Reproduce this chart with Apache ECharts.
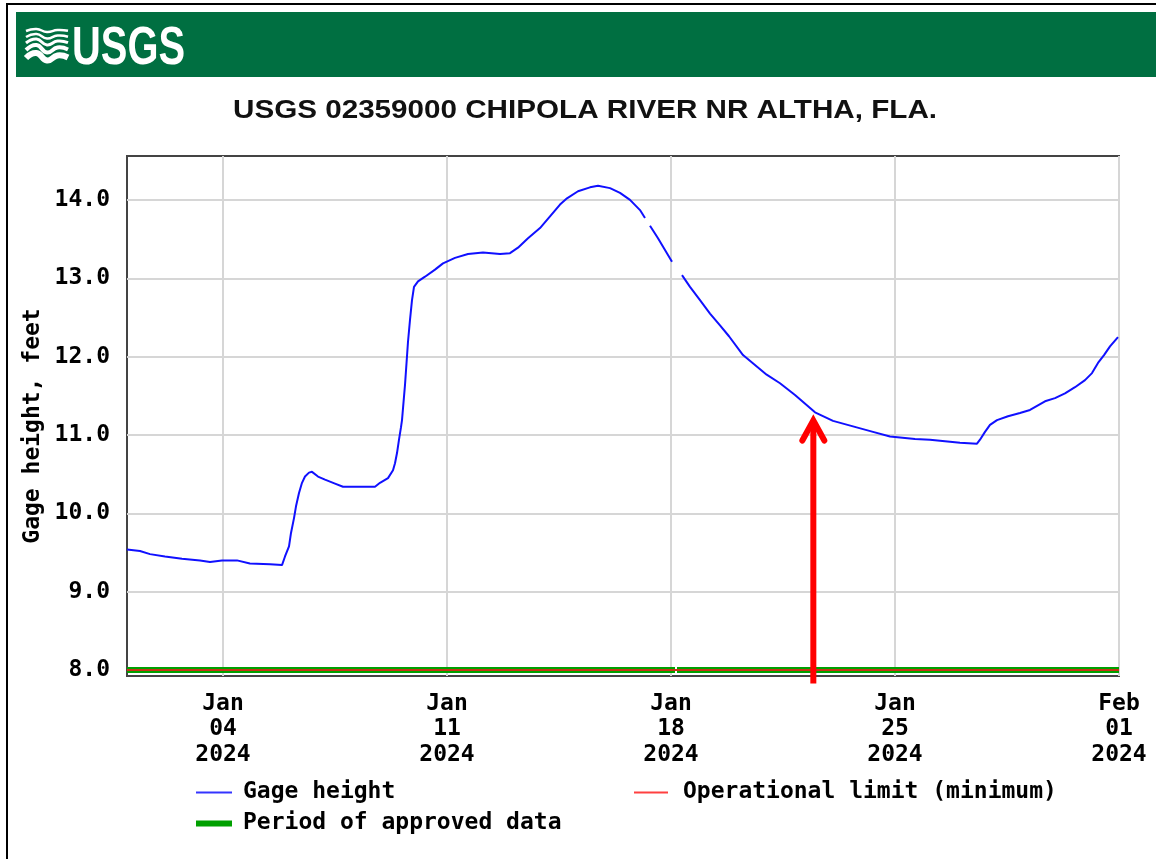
<!DOCTYPE html>
<html>
<head>
<meta charset="utf-8">
<script src="https://cdn.jsdelivr.net/npm/echarts@6/dist/echarts.min.js"></script>
<style>
html,body{margin:0;padding:0;background:#fff;}
#c{width:1156px;height:859px;}
</style>
</head>
<body>
<div id="c"></div>
<script>
// ---------------- DATA ----------------
const chartTitle = 'USGS 02359000 CHIPOLA RIVER NR ALTHA, FLA.';
const yAxisTitle = 'Gage height, feet';
const seriesNames = ['Gage height', 'Operational limit (minimum)', 'Period of approved data'];

const gageTimes = [
'2024-01-01 00:00','2024-01-01 09:45','2024-01-01 17:15','2024-01-02 04:30','2024-01-02 17:15','2024-01-03 06:45','2024-01-03 14:15','2024-01-03 23:15','2024-01-04 10:30','2024-01-04 20:10',
'2024-01-05 11:15','2024-01-05 20:15','2024-01-05 22:30','2024-01-06 01:30','2024-01-06 03:00','2024-01-06 05:15','2024-01-06 06:45','2024-01-06 09:00','2024-01-06 11:15','2024-01-06 13:30',
'2024-01-06 16:30','2024-01-06 18:45','2024-01-06 23:15','2024-01-07 04:30','2024-01-07 12:00','2024-01-07 18:00','2024-01-08 03:00','2024-01-08 18:00','2024-01-08 21:45','2024-01-09 03:45',
'2024-01-09 07:30','2024-01-09 09:00','2024-01-09 10:30','2024-01-09 12:00','2024-01-09 13:30','2024-01-09 14:15','2024-01-09 16:30','2024-01-09 18:45','2024-01-09 20:15','2024-01-09 21:45',
'2024-01-09 23:15','2024-01-10 02:15','2024-01-10 07:30','2024-01-10 15:00','2024-01-10 21:00','2024-01-11 06:00','2024-01-11 15:45','2024-01-12 03:00','2024-01-12 15:45','2024-01-12 23:15',
'2024-01-13 05:15','2024-01-13 12:45','2024-01-13 21:45','2024-01-14 05:15','2024-01-14 12:45','2024-01-14 18:00','2024-01-15 02:15','2024-01-15 11:15','2024-01-15 17:15','2024-01-16 02:15',
'2024-01-16 09:45','2024-01-16 17:15','2024-01-17 00:45','2024-01-17 04:30','2024-01-17 06:15','2024-01-17 08:15','2024-01-17 14:15','2024-01-17 19:30','2024-01-18 00:45','2024-01-18 04:00',
'2024-01-18 08:15','2024-01-18 14:15','2024-01-18 21:45','2024-01-19 05:15','2024-01-19 12:45','2024-01-19 19:30','2024-01-20 06:00','2024-01-20 23:45','2024-01-21 09:45','2024-01-21 21:00',
'2024-01-22 12:00','2024-01-23 01:30','2024-01-23 16:30','2024-01-24 07:30','2024-01-24 20:15','2024-01-25 15:00','2024-01-26 02:15','2024-01-26 13:30','2024-01-27 00:45','2024-01-27 13:30',
'2024-01-27 15:45','2024-01-27 19:30','2024-01-27 23:15','2024-01-28 04:30','2024-01-28 12:45','2024-01-28 21:45','2024-01-29 05:15','2024-01-29 16:30','2024-01-30 00:00','2024-01-30 07:30',
'2024-01-30 15:00','2024-01-30 22:30','2024-01-31 03:45','2024-01-31 08:15','2024-01-31 12:45','2024-01-31 17:15','2024-01-31 23:15'
];
const gageHeight = [
9.54,9.52,9.48,9.45,9.42,9.40,9.38,9.40,9.40,9.36,
9.35,9.34,9.45,9.58,9.75,9.94,10.09,10.26,10.39,10.47,
10.52,10.53,10.47,10.43,10.38,10.34,10.34,10.34,10.39,10.45,
10.55,10.64,10.77,10.94,11.10,11.19,11.64,12.19,12.47,12.72,
12.89,12.96,13.02,13.11,13.19,13.26,13.31,13.33,13.31,13.32,
13.39,13.51,13.64,13.79,13.94,14.02,14.11,14.16,14.18,14.15,
14.09,14.00,13.87,13.77,null,13.67,13.51,13.36,13.21,null,
13.04,12.89,12.72,12.55,12.40,12.26,12.02,11.77,11.66,11.51,
11.29,11.18,11.11,11.04,10.98,10.95,10.94,10.92,10.90,10.89,
10.94,11.04,11.13,11.19,11.24,11.28,11.32,11.43,11.47,11.53,
11.61,11.70,11.79,11.92,12.02,12.13,12.25
];

const operationalLimitTimes = ['2024-01-01 00:00', '2024-02-01 00:00'];
const operationalLimitValue = 8.0;

const approvedStarts = ['2024-01-01 00:00', '2024-01-18 04:30'];
const approvedEnds   = ['2024-01-18 03:00', '2024-02-01 00:00'];
const approvedLevel = 8.0;

const xMin = '2024-01-01 00:00';
const xMax = '2024-02-01 00:00';
const xTickDates  = ['2024-01-04 00:00', '2024-01-11 00:00', '2024-01-18 00:00', '2024-01-25 00:00', '2024-02-01 00:00'];
const xTickLabels = ['Jan\n04\n2024', 'Jan\n11\n2024', 'Jan\n18\n2024', 'Jan\n25\n2024', 'Feb\n01\n2024'];
const yTicks = [8, 9, 10, 11, 12, 13, 14];
const yMin = 7.925;
const yMax = 14.56;

// annotation arrow (points at the gage line)
const arrowTime = '2024-01-22 10:45';
const arrowTipValue = 11.21;
const arrowBaseValue = 7.83;

// ---------------- BUILD ----------------
function ts(s){ const p = s.split(/[- :]/).map(Number); return new Date(p[0], p[1]-1, p[2], p[3]||0, p[4]||0).getTime(); }

const gageData = gageTimes.map((t, i) => [ts(t), gageHeight[i]]);
const limitData = operationalLimitTimes.map(t => [ts(t), operationalLimitValue]);
const approvedData = [];
approvedStarts.forEach((s, i) => {
  if (i > 0) approvedData.push([(ts(approvedEnds[i-1]) + ts(s)) / 2, null]);
  approvedData.push([ts(s), approvedLevel]);
  approvedData.push([ts(approvedEnds[i]), approvedLevel]);
});
const xTickVals = xTickDates.map(ts);
const xLabelMap = {};
xTickVals.forEach((v, i) => { xLabelMap[v] = xTickLabels[i]; });

const MONO = '"DejaVu Sans Mono", "Liberation Mono", monospace';
const FS = 23;
const monoStyle = { fontFamily: MONO, fontWeight: 'bold', fontSize: FS, color: '#000' };

function measure(text, font){
  const c = document.createElement('canvas').getContext('2d');
  c.font = font; return c.measureText(text).width;
}
const titleFont = 'bold 26px "Liberation Sans", Arial, sans-serif';
const titleScale = 704 / measure(chartTitle, titleFont);
const logoFont = 'bold 54px "Liberation Sans", Arial, sans-serif';
const logoScale = 113 / measure('USGS', logoFont);

const chart = echarts.init(document.getElementById('c'), null, { renderer: 'canvas' });

const option = {
  animation: false,
  backgroundColor: '#fff',
  grid: { left: 127, top: 156, right: 37, bottom: 183, show: true, borderColor: '#444', borderWidth: 2, backgroundColor: '#fff', containLabel: false },
  xAxis: {
    type: 'value', min: ts(xMin), max: ts(xMax), scale: true,
    axisLine: { show: false },
    axisTick: { show: false, customValues: xTickVals },
    splitLine: { show: true, lineStyle: { color: '#d6d6d6', width: 2 } },
    axisLabel: {
      customValues: xTickVals, showMinLabel: true, showMaxLabel: true, hideOverlap: false,
      margin: 15, lineHeight: 25.5, align: 'center',
      fontFamily: MONO, fontWeight: 'bold', fontSize: FS, color: '#000',
      formatter: v => xLabelMap[v] || ''
    }
  },
  yAxis: {
    type: 'value', min: yMin, max: yMax,
    axisLine: { show: false },
    axisTick: { show: false, customValues: yTicks },
    splitLine: { show: true, lineStyle: { color: '#d6d6d6', width: 2 } },
    axisLabel: {
      customValues: yTicks, margin: 17, padding: [18, 0, 0, 0],
      fontFamily: MONO, fontWeight: 'bold', fontSize: FS, color: '#000',
      formatter: v => Number(v).toFixed(1)
    }
  },
  legend: [
    { data: [{ name: seriesNames[0], itemStyle: { color: '#3434ff' } }], left: 196, top: 781, icon: 'rect', itemWidth: 36, itemHeight: 2, selectedMode: false, padding: 0,
      textStyle: Object.assign({ padding: [0, 0, 0, 6] }, monoStyle) },
    { data: [{ name: seriesNames[1], itemStyle: { color: '#ff4040' } }], left: 634, top: 781, icon: 'rect', itemWidth: 34, itemHeight: 2, selectedMode: false, padding: 0,
      textStyle: Object.assign({ padding: [0, 0, 0, 10] }, monoStyle) },
    { data: [{ name: seriesNames[2], itemStyle: { color: '#00a000' } }], left: 196, top: 812, icon: 'rect', itemWidth: 36, itemHeight: 6, selectedMode: false, padding: 0,
      textStyle: Object.assign({ padding: [0, 0, 0, 6] }, monoStyle) }
  ],
  series: [
    { name: seriesNames[2], type: 'line', data: approvedData, symbol: 'none', connectNulls: false, clip: false,
      color: '#00a000', lineStyle: { color: '#00a000', width: 6, cap: 'butt' }, z: 3, silent: true },
    { name: seriesNames[1], type: 'line', data: limitData, symbol: 'none', clip: false,
      color: '#c83214', lineStyle: { color: '#c83214', width: 2 }, z: 4, silent: true },
    { name: seriesNames[0], type: 'line', data: gageData, symbol: 'none', showSymbol: false, connectNulls: false,
      color: '#1010ff', lineStyle: { color: '#1010ff', width: 2 }, z: 5, silent: true }
  ]
};
chart.setOption(option);

const tip = chart.convertToPixel({ xAxisIndex: 0, yAxisIndex: 0 }, [ts(arrowTime), arrowTipValue]);
const base = chart.convertToPixel({ xAxisIndex: 0, yAxisIndex: 0 }, [ts(arrowTime), arrowBaseValue]);

function wave(x0, y, amp, w, len){
  return { type: 'polyline', z: 12,
           shape: { points: [[x0, y], [x0 + len * 0.25, y - amp], [x0 + len * 0.5, y + amp * 0.5], [x0 + len * 0.75, y - amp * 0.5], [x0 + len, y - amp * 0.1]], smooth: 0.5 },
           style: { stroke: '#ffffff', lineWidth: w, fill: null, lineCap: 'butt' } };
}

chart.setOption({
  graphic: [
    { type: 'polyline', shape: { points: [[7, 859], [7, 4], [1156, 4]] }, style: { stroke: '#000', lineWidth: 2, fill: null }, z: 10 },
    { type: 'rect', shape: { x: 16, y: 12, width: 1140, height: 65 }, style: { fill: '#006f41' }, z: 10 },
    wave(26, 31, 2, 2.5, 42), wave(26, 37, 3, 2.5, 42), wave(26, 43, 4, 3, 42), wave(26, 50, 5, 4, 42), wave(26, 58, 5, 6, 42),
    { type: 'text', x: 72, y: 49, z: 11, scaleX: logoScale, originX: 0,
      style: { text: 'USGS', font: logoFont, fill: '#fff', textAlign: 'left', textVerticalAlign: 'middle' } },
    { type: 'text', x: 233, y: 111, z: 11, scaleX: titleScale, originX: 0,
      style: { text: chartTitle, font: titleFont, fill: '#111', textAlign: 'left', textVerticalAlign: 'middle' } },
    { type: 'text', x: 33, y: 426, rotation: Math.PI / 2, z: 11,
      style: { text: yAxisTitle, font: 'bold ' + FS + 'px ' + MONO, fill: '#000', textAlign: 'center', textVerticalAlign: 'middle' } },
    { type: 'line', z: 20, shape: { x1: base[0], y1: base[1], x2: tip[0], y2: tip[1] + 3 }, style: { stroke: '#ff0000', lineWidth: 6 } },
    { type: 'polyline', z: 20, shape: { points: [[tip[0] - 11, tip[1] + 22], [tip[0], tip[1] + 2], [tip[0] + 11, tip[1] + 22]] },
      style: { stroke: '#ff0000', lineWidth: 6, lineCap: 'round', lineJoin: 'miter', fill: null } }
  ]
});
</script>
</body>
</html>
